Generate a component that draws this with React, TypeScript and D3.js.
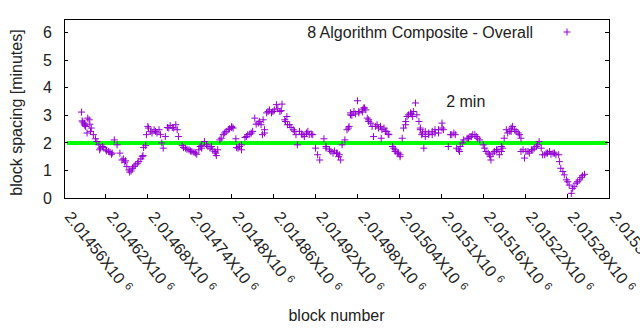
import React from "react";
import * as d3 from "d3";

// first pass of readings
const blocks = [2014585,2014586,2014589,2014591,2014593,2014596,2014597,2014598,2014602,2014605,2014610,2014611,2014615,2014620,2014624,2014629,2014632,2014636,2014640,2014643,2014648,2014650,2014654,2014658,2014662,2014667,2014672,2014674,2014677,2014678,2014680,2014684,2014689,2014693,2014698,2014700,2014702,2014705,2014710,2014715,2014720,2014722,2014724,2014729,2014734,2014739,2014743,2014748,2014753,2014755,2014757,2014761,2014766,2014771,2014776,2014778,2014780,2014785,2014790,2014795,2014800,2014802,2014806,2014807,2014811,2014814,2014819,2014823,2014828,2014833,2014838,2014842,2014844,2014845,2014847,2014852,2014857,2014861,2014864,2014869,2014872,2014876,2014879,2014883,2014888,2014892,2014894,2014897,2014902,2014907,2014911,2014916,2014920,2014923,2014926,2014932,2014935,2014942,2014950,2014953,2014956,2014958,2014962,2014965,2014968,2014970,2014975,2014980,2014982,2014987,2014990,2014994,2014996,2015001,2015003,2015008,2015013,2015014,2015018,2015022,2015025,2015030,2015034,2015037,2015041,2015044,2015046,2015049,2015051,2015056,2015059,2015063,2015065,2015068,2015070,2015072,2015075,2015077,2015082,2015087,2015091,2015096,2015101,2015103,2015110,2015115,2015120,2015125,2015127,2015132,2015139,2015143,2015148,2015152,2015160,2015164,2015169,2015171,2015176,2015181,2015183,2015186,2015190,2015193,2015198,2015200,2015205,2015210,2015214,2015217,2015219,2015221,2015226,2015231,2015236,2015240,2015243,2015245,2015250,2015255,2015260,2015264,2015268,2015269,2015271,2015276,2015279,2015283,2015286,2015288,2015293,2015298,2015302,2015305];

const spacing = [3.12,2.80,2.72,2.60,2.36,2.84,2.68,2.42,2.30,2.15,
1.93,1.75,1.87,1.75,1.69,1.63,2.11,1.93,1.63,1.38,
1.35,1.14,0.94,1.08,1.20,1.32,1.50,1.83,1.90,2.30,
2.60,2.42,2.48,2.36,2.30,2.00,1.81,2.23,2.54,2.56,
2.66,2.48,2.23,1.90,1.81,1.75,1.69,1.63,1.75,1.87,
1.81,2.05,1.87,1.87,1.69,1.54,1.75,2.17,2.36,2.48,
2.56,2.54,2.15,1.83,1.87,1.75,2.20,2.30,2.36,2.90,
2.72,2.66,2.30,2.84,2.48,3.14,3.09,3.20,3.39,3.14,
3.41,2.84,2.96,2.66,2.48,2.30,1.93,2.42,2.30,2.36,
2.30,2.30,1.81,1.57,1.38,2.15,1.87,1.69,1.63,1.50,
1.38,1.93,2.11,2.48,2.60,3.02,3.14,3.53,3.09,3.20,
3.27,2.90,2.78,2.60,2.23,2.66,2.60,2.17,2.54,2.42,
2.30,1.87,1.75,1.63,1.57,2.17,2.54,2.78,2.96,3.09,
2.96,3.45,3.02,2.78,2.48,2.30,1.81,2.42,2.30,2.42,
2.36,2.48,2.72,2.48,1.87,2.30,2.30,1.75,1.87,2.11,
2.17,2.23,2.30,2.17,1.93,1.69,1.57,1.38,1.69,1.75,
1.57,1.87,2.17,2.48,2.42,2.54,2.48,2.36,2.17,1.75,
1.45,1.69,1.63,1.75,1.87,2.05,1.81,1.57,1.63,1.69,
1.63,1.57,1.57,1.32,1.08,0.84,0.66,0.47,0.17,0.35,
0.54,0.66,0.81,0.86];

// second pass of readings inside the dense clusters
const blocksMore = [2014587,2014589,2014590,2014594,2014599,2014607,2014612,2014617,2014621,2014626,2014628,2014645,2014647,2014653,2014656,2014660,2014665,2014670,2014673,2014681,2014686,2014691,2014696,2014708,2014712,2014717,2014731,2014736,2014741,2014746,2014750,
2014757,2014764,2014769,2014773,2014777,2014783,2014788,2014792,2014797,2014800,2014809,2014814,2014821,2014826,2014830,2014835,2014840,2014847,2014850,2014854,2014859,2014866,2014871,2014877,2014880,2014885,2014890,2014900,2014904,2014909,2014914,2014935,2014940,2014945,2014947,
2014951,2014954,2014967,2014970,2014972,2014977,2014982,2014987,2014989,2014992,2014996,2014999,2015006,2015010,2015015,2015020,2015024,2015032,2015034,2015039,2015041,2015049,2015053,2015057,2015060,2015070,2015073,2015077,2015082,2015087,2015091,2015096,2015101,2015113,2015118,2015122,2015126,2015130,2015137,2015141,
2015145,2015150,2015155,2015162,2015167,2015170,2015174,2015179,2015186,2015188,2015195,2015200,2015202,2015207,2015212,2015214,2015224,2015229,2015233,2015238,2015248,2015252,2015257,2015262,2015274,2015281,2015290,2015295,2015300];

const spacingMore = [2.76,2.68,2.63,2.90,2.54,2.05,1.81,1.83,1.71,1.66,1.59,1.42,1.30,1.02,0.98,1.14,1.26,1.42,1.54,2.54,2.36,2.42,2.48,2.56,2.63,2.54,1.83,1.77,1.71,1.66,1.59,
1.90,1.93,1.81,1.75,1.63,2.11,2.30,2.42,2.51,2.60,1.81,1.93,2.23,2.32,2.42,2.68,2.78,2.36,3.09,3.20,3.14,3.24,3.17,2.78,2.66,2.56,2.42,2.32,2.23,2.42,2.32,1.81,1.75,1.63,1.71,
1.63,1.57,2.54,3.09,3.00,3.05,3.14,3.12,3.27,3.20,2.84,2.72,2.60,2.54,2.48,2.42,2.32,1.81,1.69,1.63,1.50,2.66,3.02,3.05,3.14,2.54,2.36,2.23,2.36,2.30,2.48,2.36,2.54,2.30,2.36,1.81,1.69,2.00,2.17,2.23,
2.30,2.23,2.11,1.81,1.63,1.50,1.63,1.75,1.69,1.81,2.36,2.42,2.60,2.42,2.30,1.69,1.69,1.75,1.81,1.93,1.57,1.63,1.59,1.63,0.96,0.59,0.41,0.59,0.74];

const xDomain = [2014560, 2015340];
const xTickStep = 60;
const yDomain = [0, 6.5];
const yTicks = [0, 1, 2, 3, 4, 5, 6];
const targetSpacing = 2;
const legendLabel = "8 Algorithm Composite - Overall";
const annotation = { text: "2 min", block: 2015107, value: 3.32 };
const xTitle = "block number";
const yTitle = "block spacing [minutes]";

const W = 640, H = 330;
const M = { left: 64, top: 19, right: 31, bottom: 132 };
const FONT = "'Liberation Sans', Arial, sans-serif";
const FS = 16;
const PURPLE = "#9400d3";

export default function App() {
  const x = d3.scaleLinear().domain(xDomain).range([M.left, W - M.right]);
  const y = d3.scaleLinear().domain(yDomain).range([H - M.bottom, M.top]);
  const xTicks = d3.range(xDomain[0], xDomain[1] + 1, xTickStep);
  const allB = blocks.concat(blocksMore);
  const allS = spacing.concat(spacingMore);
  const n = Math.min(allB.length, allS.length);
  const pts = d3.range(n).map((i) => [x(allB[i]), y(allS[i])]);
  const plus = (cx: number, cy: number, r = 3.5) =>
    `M${cx - r},${cy}H${cx + r}M${cx},${cy - r}V${cy + r}`;
  const x0 = M.left, x1 = W - M.right, y0 = H - M.bottom, y1 = M.top;
  const fmt = (v: number) => (v / 1e6).toFixed(5).replace(/0+$/, "");

  return (
    <svg width={W} height={H} style={{ position: "absolute", left: 0, top: 0, background: "#fff" }} fontFamily={FONT}>
      <rect x={0} y={0} width={W} height={H} fill="#fff" />
      <line x1={x0 + 3} x2={x1 - 2} y1={y(targetSpacing)} y2={y(targetSpacing)} stroke="#00ff00" strokeWidth={4} />
      <path d={pts.map(([px, py]) => plus(px, py)).join("")} stroke={PURPLE} strokeWidth={1} fill="none" />
      <rect x={x0} y={y1} width={x1 - x0} height={y0 - y1} fill="none" stroke="#000" strokeWidth={1} shapeRendering="crispEdges" />
      {yTicks.map((t) => (
        <g key={"y" + t}>
          <line x1={x0} x2={x0 + 4} y1={y(t)} y2={y(t)} stroke="#000" shapeRendering="crispEdges" />
          <line x1={x1} x2={x1 - 4} y1={y(t)} y2={y(t)} stroke="#000" shapeRendering="crispEdges" />
          <text x={x0 - 12} y={y(t)} dy="0.35em" textAnchor="end" fontSize={FS} fill="#222">{t}</text>
        </g>
      ))}
      {xTicks.map((t) => (
        <g key={"x" + t}>
          <line x1={x(t)} x2={x(t)} y1={y0} y2={y0 - 4} stroke="#000" shapeRendering="crispEdges" />
          <text transform={`translate(${x(t)},${y0 + 19}) rotate(52)`} fontSize={FS} fill="#222">
            {fmt(t)}X10<tspan dx={5} dy={-5} fontSize={11}>6</tspan>
          </text>
        </g>
      ))}
      <text x={533} y={32} dy="0.35em" textAnchor="end" fontSize={FS} fill="#222">{legendLabel}</text>
      <path d={plus(567, 32)} stroke={PURPLE} strokeWidth={1} fill="none" />
      <text x={x(annotation.block)} y={y(annotation.value)} fontSize={FS} fill="#222">{annotation.text}</text>
      <text x={(x0 + x1) / 2} y={321} textAnchor="middle" fontSize={FS} fill="#222">{xTitle}</text>
      <text transform={`translate(22,${(y0 + y1) / 2 + 4}) rotate(-90)`} textAnchor="middle" fontSize={FS} fill="#222">{yTitle}</text>
    </svg>
  );
}
